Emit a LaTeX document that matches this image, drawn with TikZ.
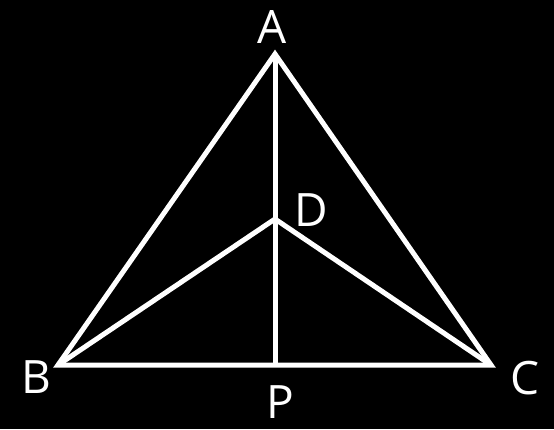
\documentclass[tikz,border=0pt]{standalone}
\usepackage{fontspec}
\setmainfont{Open Sans}
\usetikzlibrary{calc}
\tikzset{
  edge/.style={
    draw=white,
    line width=5pt
  },
  vlabel/.style={
    text=white,
    inner sep=0pt,
    font=\fontsize{46}{50}\selectfont
  }
}

\begin{document}
\begin{tikzpicture}[x=1pt,y=-1pt]
  \path[fill=black, use as bounding box] (0,0) rectangle (554,429);

  \coordinate (A) at (275,54);
  \coordinate (B) at (58,365);
  \coordinate (C) at (491,365);
  \coordinate (D) at (275,219);
  \coordinate (P) at (275,365);

  \node[vlabel] (labelA) at (272,27) {A};
  \node[vlabel] (labelB) at (36,377) {B};
  \node[vlabel] (labelC) at (525,378) {C};
  \node[vlabel] (labelD) at (311,210) {D};
  \node[vlabel] (labelP) at (280,402) {P};

  \draw[edge] (A) -- (B) -- (C) -- cycle;
  \draw[edge] (A) -- (P);
  \draw[edge] (B) -- (D) -- (C);
\end{tikzpicture}
\end{document}
